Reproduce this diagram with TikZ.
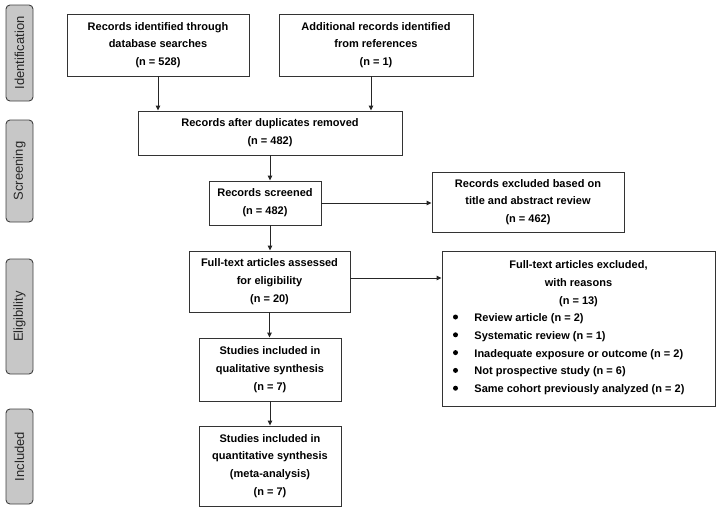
\documentclass[tikz,border=0pt]{standalone}
\usepackage{fontspec}
\setmainfont{Liberation Sans}
\usetikzlibrary{arrows.meta}
\begin{document}
\begin{tikzpicture}[x=1pt,y=-1pt,
  box/.style={draw=black!80, line width=0.9pt, fill=white, align=center, inner sep=0pt, font=\bfseries\fontsize{11}{17.8}\selectfont},
  phase/.style={draw=black!75, line width=0.9pt, fill=black!22, rounded corners=4pt, inner sep=0pt, font=\fontsize{13}{15}\selectfont, text=black!85},
  arr/.style={draw=black!85, line width=0.9pt, -{Triangle[length=5pt,width=4.5pt]}},
  bul/.style={fill=black, circle, inner sep=0pt, minimum size=5pt}
]
\useasboundingbox (0,0) rectangle (722,507);
% phase labels
\node[phase, minimum width=27pt, minimum height=96pt] (pI) at (19.5,53) {\rotatebox{90}{Identification}};
\node[phase, minimum width=27pt, minimum height=102pt] (pS) at (19.5,171) {\rotatebox{90}{Screening}};
\node[phase, minimum width=27pt, minimum height=115pt] (pE) at (19.5,316.5) {\rotatebox{90}{Eligibility}};
\node[phase, minimum width=27pt, minimum height=95pt] (pN) at (19.5,456.5) {\rotatebox{90}{Included}};
% boxes
\node[box, minimum width=182pt, minimum height=62pt] (b1) at (158,45) {Records identified through\\database searches\\(n = 528)};
\node[box, minimum width=194pt, minimum height=62pt] (b2) at (376,45) {Additional records identified\\from references\\(n = 1)};
\node[box, minimum width=264pt, minimum height=44pt] (b3) at (270,133) {Records after duplicates removed\\(n = 482)};
\node[box, minimum width=112pt, minimum height=44pt] (b4) at (265,203) {Records screened\\(n = 482)};
\node[box, minimum width=192pt, minimum height=60pt] (b5) at (528,202) {Records excluded based on\\title and abstract review\\(n = 462)};
\node[box, minimum width=161pt, minimum height=61pt] (b6) at (269.5,281.5) {Full-text articles assessed\\for eligibility\\(n = 20)};
\node[box, minimum width=273pt, minimum height=155pt] (b7) at (578.5,328.5) {};
\node[box, draw=none, fill=none, anchor=north] (b7t) at (578.5,260.5) {Full-text articles excluded,\\with reasons\\(n = 13)};
\node[box, draw=none, fill=none, anchor=north west, align=left] (b7l) at (474,313) {%
Review article (n = 2)\\
Systematic review (n = 1)\\
Inadequate exposure or outcome (n = 2)\\
Not prospective study (n = 6)\\
Same cohort previously analyzed (n = 2)};
\foreach \i/\yy in {1/317,2/334.8,3/352.6,4/370.4,5/388.2}{
  \node[bul] (d\i) at (455.5,\yy) {};
}
\node[box, minimum width=142pt, minimum height=63pt] (b8) at (270,369.5) {Studies included in\\qualitative synthesis\\(n = 7)};
\node[box, minimum width=142pt, minimum height=80pt] (b9) at (270,466) {Studies included in\\quantitative synthesis\\(meta-analysis)\\(n = 7)};
% connectors
\draw[arr] (b1.south) -- (b1.south |- b3.north);
\draw[arr] (b2.south -| 371,0) -- (371,0 |- b3.north);
\draw[arr] (b3.south) -- (b3.south |- b4.north);
\draw[arr] (b4.south -| 270,0) -- (270,0 |- b6.north);
\draw[arr] (b4.east) -- (b4.east -| b5.west);
\draw[arr] (b6.east |- 0,278) -- (b7.west |- 0,278);
\draw[arr] (b6.south) -- (b6.south |- b8.north);
\draw[arr] (b8.south) -- (b8.south |- b9.north);
\end{tikzpicture}
\end{document}
